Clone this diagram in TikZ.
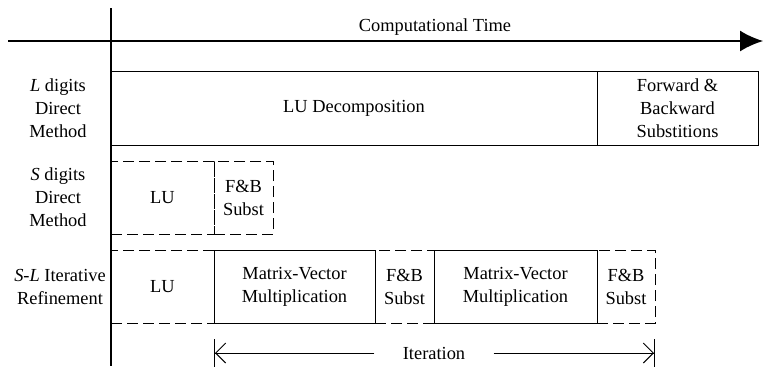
\documentclass[tikz,border=0pt]{standalone}
\usepackage{fontspec}
\setmainfont{Liberation Serif}
\usetikzlibrary{arrows.meta}

\newcommand*{\xmin}{8}
\newcommand*{\xmax}{763}
\newcommand*{\ymin}{8}
\newcommand*{\ymax}{366}
\newcommand*{\taxis}{41}
\newcommand*{\raxis}{111}

\begin{document}
\begin{tikzpicture}
[
	x=0.5pt, y=-0.5pt,
	font=\fontsize{9.2}{11.5}\selectfont,
	axisline/.style={line width=0.9pt},
	solidbox/.style={draw,line width=0.5pt,inner sep=0pt,outer sep=0pt,align=center},
	dashbox/.style={solidbox,dash pattern=on 5.5pt off 2.5pt},
	rowlabel/.style={align=center},
	itarrow/.style={-{Straight Barb[length=5pt,width=10pt]Bar[width=14pt]},line width=0.5pt}
]
	\useasboundingbox (0,0) rectangle (763,366);

	% axes
	\coordinate (tstart) at (\xmin,\taxis);
	\coordinate (tend) at (\xmax,\taxis);
	\coordinate (rtop) at (\raxis,\ymin);
	\coordinate (rbot) at (\raxis,\ymax);
	\draw[axisline,-{Latex[length=11.5pt,width=10.5pt]}] (tstart) -- (tend);
	\draw[axisline] (rtop) -- (rbot);
	\node (time) at (435,27) {Computational Time};

	% row labels
	\node[rowlabel] (lrow) at (58,108) {\textit{L} digits\\Direct\\Method};
	\node[rowlabel] (srow) at (58,197.5) {\textit{S} digits\\Direct\\Method};
	\node[rowlabel] (slrow) at (60,286.5) {\textit{S-L} Iterative\\Refinement};

	% L digits direct
	\node[solidbox,minimum width=243pt,minimum height=37pt] (lud) at (354,108) {LU Decomposition};
	\node[solidbox,minimum width=80.5pt,minimum height=37pt] (fbs) at (677.5,108) {Forward \&\\Backward\\Substitions};

	% S digits direct
	\node[dashbox,minimum width=51.5pt,minimum height=36.5pt] (lus) at (162.5,197.5) {LU};
	\node[dashbox,minimum width=29.5pt,minimum height=36.5pt] (fbss) at (243.5,197.5) {F\&B\\Subst};

	% S-L iterative refinement
	\node[dashbox,minimum width=51.5pt,minimum height=36.5pt] (lusl) at (162.5,286.5) {LU};
	\node[dashbox,minimum width=29.5pt,minimum height=36.5pt] (fba) at (404.5,286.5) {F\&B\\Subst};
	\node[dashbox,minimum width=29pt,minimum height=36.5pt] (fbb) at (626,286.5) {F\&B\\Subst};
	\node[solidbox,minimum width=80.5pt,minimum height=36.5pt] (mva) at (294.5,286.5) {Matrix-Vector\\Multiplication};
	\node[solidbox,minimum width=81.5pt,minimum height=36.5pt] (mvb) at (515.5,286.5) {Matrix-Vector\\Multiplication};

	% iteration
	\coordinate (itstart) at (214,353);
	\coordinate (itend) at (655,353);
	\node[inner xsep=14pt] (iter) at (434,353) {Iteration};
	\draw[itarrow] (iter) -- (itstart);
	\draw[itarrow] (iter) -- (itend);

\end{tikzpicture}
\end{document}
